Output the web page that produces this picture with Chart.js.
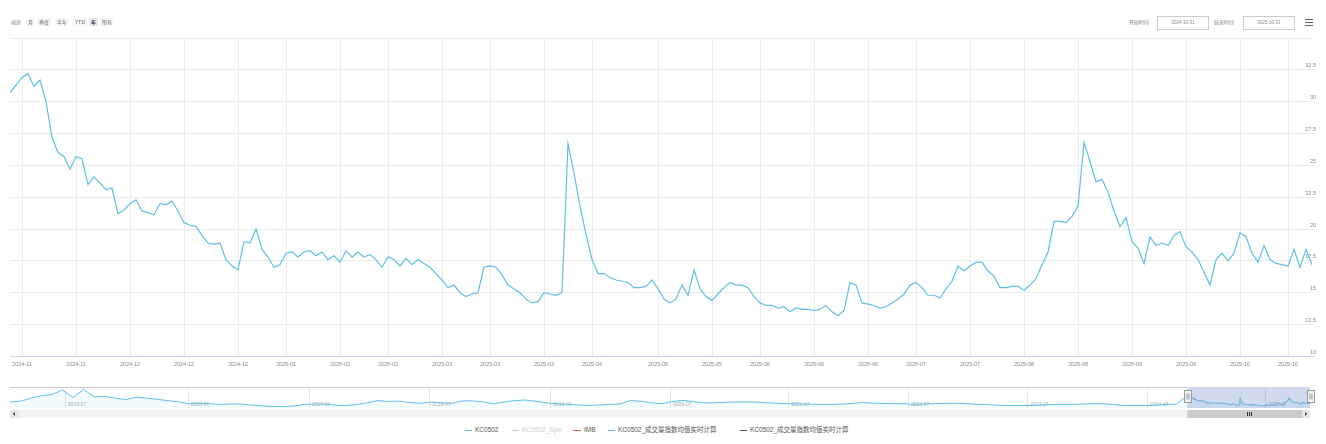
<!DOCTYPE html>
<html>
<head>
<meta charset="utf-8">
<script src="https://cdn.jsdelivr.net/npm/chart.js@4.4.0/dist/chart.umd.min.js"></script>
<style>
body{margin:0;background:#fff;font-family:"Liberation Sans","Noto Sans CJK SC",sans-serif;}
#wrap{position:relative;width:1326px;height:444px;overflow:hidden;}
#mainBox{position:absolute;left:0;top:0;width:1326px;height:380px;}
#navBox{position:absolute;left:0;top:384px;width:1326px;height:36px;}
.t{position:absolute;white-space:nowrap;color:#888;font-size:5px;line-height:8px;}
.btn{position:absolute;top:18px;height:8px;padding:0 2px;background:#f7f7f7;color:#666;font-size:5px;line-height:8px;}
.btn.on{background:#e6ebf5;color:#333;font-weight:bold;}
.inp{position:absolute;top:16px;height:12px;border:1px solid #ccc;color:#888;font-size:4.5px;line-height:12px;text-align:center;}
.menu{position:absolute;left:1305px;width:8px;height:1px;background:#666;}
.lg{position:absolute;top:426px;height:8px;font-size:6.5px;line-height:8px;white-space:nowrap;color:#555;}
.lg i{display:inline-block;width:7px;height:1.5px;vertical-align:middle;margin-right:3px;}
</style>
</head>
<body>
<div id="wrap">
  <div id="mainBox"><canvas id="mainChart"></canvas></div>
  <div id="navBox"><canvas id="navChart"></canvas></div>

  <!-- range selector -->
  <div class="t" style="left:11px;top:18px;">缩放</div>
  <div class="btn" style="left:26px;">月</div>
  <div class="btn" style="left:37px;">季度</div>
  <div class="btn" style="left:55px;">半年</div>
  <div class="btn" style="left:73px;">YTD</div>
  <div class="btn on" style="left:89px;">年</div>
  <div class="btn" style="left:100px;">所有</div>

  <div class="t" style="left:1129px;top:18px;">开始时间</div>
  <div class="inp" style="left:1157px;width:50px;">2024-10-31</div>
  <div class="t" style="left:1214px;top:18px;">结束时间</div>
  <div class="inp" style="left:1243px;width:50px;">2025-10-31</div>
  <div class="menu" style="top:19px;"></div>
  <div class="menu" style="top:22px;"></div>
  <div class="menu" style="top:25px;"></div>

  <!-- legend -->
  <div class="lg" style="left:465px;"><i style="background:#5ec0e6"></i>KC0502</div>
  <div class="lg" style="left:512px;color:#ccc;"><i style="background:#ccc"></i>KC0502_Sym</div>
  <div class="lg" style="left:573px;"><i style="background:#f45b5b;width:8px"></i>IMB</div>
  <div class="lg" style="left:608px;"><i style="background:#5ec0e6"></i>KC0502_成交量指数均值实时计算</div>
  <div class="lg" style="left:740px;"><i style="background:#555"></i>KC0502_成交量指数均值实时计算</div>
</div>

<script>
// daily values shown in the main window (2024-10-31 .. 2025-10-31)
const values = [
  30.7,31.3,31.9,32.2,31.2,31.7,30.0,27.2,26.0,25.7,
  24.7,25.7,25.5,23.5,24.1,23.6,23.1,23.2,21.2,21.5,
  22.0,22.3,21.4,21.3,21.1,22.0,21.9,22.2,21.4,20.5,
  20.3,20.2,19.5,18.9,18.8,18.9,17.6,17.1,16.8,19.0,
  18.9,20.0,18.4,17.8,17.0,17.2,18.1,18.2,17.8,18.2,
  18.3,17.9,18.2,17.6,17.9,17.4,18.3,17.8,18.2,17.8,
  18.0,17.6,17.0,17.8,17.6,17.1,17.7,17.2,17.6,17.3,
  17.0,16.5,16.0,15.4,15.6,15.0,14.7,14.9,15.0,17.0,
  17.1,17.0,16.4,15.6,15.3,15.0,14.5,14.2,14.3,15.0,
  14.9,14.8,15.0,26.7,24.4,21.8,19.6,17.6,16.5,16.5,
  16.2,16.0,15.9,15.8,15.4,15.4,15.5,16.0,15.3,14.5,
  14.2,14.5,15.6,14.8,16.8,15.3,14.7,14.4,14.9,15.4,
  15.8,15.6,15.6,15.4,14.7,14.2,14.0,14.0,13.8,13.9,
  13.5,13.8,13.7,13.7,13.6,13.7,14.0,13.5,13.2,13.6,
  15.8,15.6,14.2,14.1,14.0,13.8,13.9,14.2,14.5,14.9,
  15.6,15.8,15.4,14.8,14.8,14.6,15.3,15.9,17.1,16.7,
  17.1,17.4,17.4,16.7,16.3,15.4,15.4,15.5,15.5,15.2,
  15.6,16.1,17.2,18.2,20.6,20.6,20.5,21.0,21.8,26.8,
  25.3,23.7,23.9,22.9,21.4,20.2,20.9,19.0,18.5,17.3,
  19.4,18.7,18.9,18.7,19.5,19.8,18.6,18.2,17.6,16.6,
  15.6,17.6,18.1,17.5,18.1,19.7,19.4,18.1,17.4,18.7,
  17.6,17.3,17.2,17.1,18.4,17.0,18.4,17.2
];

// x axis ticks (point index -> label)
const xTickIndex = [2,11,20,29,38,46,55,63,72,80,89,97,108,117,125,134,143,151,160,169,178,187,196,205,213];
const xTickText = ["2024-11","2024-11","2024-12","2024-12","2024-12","2025-01","2025-02","2025-02","2025-03","2025-03",
  "2025-03","2025-04","2025-05","2025-05","2025-06","2025-06","2025-06","2025-07","2025-07","2025-08",
  "2025-08","2025-09","2025-09","2025-10","2025-10"];
const yTicks = [10,12.5,15,17.5,20,22.5,25,27.5,30,32.5,35];

// navigator: coarse long history before the main window
const navHistory = [
  20,21,26,30,32,39,27,40,28,29,
  26,23.5,27.5,26,24,22,20,17,17.8,17,
  15.7,16.5,16.5,14.5,13.5,12.4,12.5,13.2,15.7,16.5,
  16.3,14.5,14,15.5,18.5,22,20.5,21.2,19,17.5,
  19.8,18.5,17.5,21.5,21.5,20,17,19.5,22,23,
  21,18.5,16.7,15.8,15,14.2,14.8,15.7,16.5,22,
  21,18.5,17,20.5,22.3,20.5,18.2,18.5,19.2,19.8,
  20,19.5,18.5,17.6,17.1,16.6,16.2,15.9,15.8,16.4,
  17,18.9,18,17.5,17,16.8,16,16.5,17,17.5,
  17.8,17,16,15.4,14.5,14,14,14.2,14.8,15.7,
  15.7,15.7,16.5,17,17,15.5,14,14,14,14.8,
  15.7,16.5
];
const navHistStep = 18.6;   // trading days per history sample
const navTickPos = [97,315,529,742,956,1168,1377,1589,1800,2012,2221];
const navTickText = ["2015-07","2016-07","2017-07","2018-07","2019-07","2020-07","2021-07","2022-07","2023-07","2024-07","2025-07"];

const lineColor = "#5ec0e6";
const fontFam = '"Liberation Sans","Noto Sans CJK SC",sans-serif';

// ---------- main chart ----------
new Chart(document.getElementById("mainChart"), {
  type: "line",
  data: {
    datasets: [{
      label: "KC0502",
      data: values.map((v, i) => ({x: i, y: v})),
      borderColor: lineColor,
      borderWidth: 1.2,
      pointRadius: 0,
      tension: 0
    }]
  },
  options: {
    responsive: true,
    maintainAspectRatio: false,
    animation: false,
    layout: {padding: {top: 38, left: 10, right: 8, bottom: 7}},
    plugins: {legend: {display: false}, tooltip: {enabled: false}},
    scales: {
      x: {
        type: "linear",
        min: 0,
        max: values.length - 1 + 0.33,
        afterBuildTicks: s => { s.ticks = xTickIndex.map(v => ({value: v})); },
        grid: {color: "#ebebeb", drawTicks: false},
        border: {color: "#ccd6eb"},
        ticks: {
          autoSkip: false, maxRotation: 0, padding: 5,
          color: "#888", font: {size: 5.5, family: fontFam},
          callback: (v, i) => xTickText[i]
        }
      },
      y: {
        position: "right",
        min: 10,
        max: 35,
        afterBuildTicks: s => { s.ticks = yTicks.map(v => ({value: v})); },
        grid: {color: "#ebebeb", drawTicks: false},
        border: {display: false},
        ticks: {
          mirror: true, padding: 2, labelOffset: -4,
          color: "#888", font: {size: 5.5, family: fontFam},
          callback: v => v === 35 ? "" : v
        }
      }
    }
  }
});

// ---------- navigator ----------
const mainStart = navHistory.length * navHistStep;
const navPoints = navHistory.map((v, k) => ({x: k * navHistStep, y: v}))
  .concat(values.map((v, i) => ({x: mainStart + i, y: v})));
const mainEnd = mainStart + values.length - 1;

const navDecor = {
  id: "navDecor",
  beforeDatasetsDraw(chart) {
    const {ctx, chartArea: a, scales} = chart;
    ctx.save();
    ctx.strokeStyle = "#e6e6e6";
    ctx.lineWidth = 1;
    navTickPos.forEach(p => {
      const x = Math.round(scales.x.getPixelForValue(p)) + 0.5;
      ctx.beginPath(); ctx.moveTo(x, a.top); ctx.lineTo(x, a.bottom); ctx.stroke();
    });
    ctx.fillStyle = "#aaa";
    ctx.font = "5px " + fontFam;
    ctx.textBaseline = "bottom";
    navTickPos.forEach((p, i) => {
      ctx.fillText(navTickText[i], scales.x.getPixelForValue(p) + 3, a.bottom - 1);
    });
    ctx.restore();
  },
  afterDatasetsDraw(chart) {
    const {ctx, chartArea: a, scales} = chart;
    const x0 = scales.x.getPixelForValue(mainStart);
    const x1 = scales.x.getPixelForValue(mainEnd);
    ctx.save();
    // mask
    ctx.fillStyle = "rgba(102,133,194,0.3)";
    ctx.fillRect(x0, a.top, x1 - x0, a.bottom - a.top);
    // outline
    ctx.strokeStyle = "#cccccc";
    ctx.lineWidth = 1;
    ctx.beginPath();
    ctx.moveTo(a.left, a.top + 0.5); ctx.lineTo(x0, a.top + 0.5);
    ctx.moveTo(x1, a.top + 0.5); ctx.lineTo(a.right, a.top + 0.5);
    ctx.stroke();
    // handles
    [x0, x1].forEach(x => {
      const hx = Math.round(x - 3.5) + 0.5, hy = Math.round(a.top + 3) + 0.5;
      ctx.fillStyle = "#f2f2f2"; ctx.strokeStyle = "#999";
      ctx.fillRect(hx, hy, 7, 12); ctx.strokeRect(hx, hy, 7, 12);
      ctx.beginPath();
      ctx.moveTo(hx + 2.5, hy + 3); ctx.lineTo(hx + 2.5, hy + 9);
      ctx.moveTo(hx + 4.5, hy + 3); ctx.lineTo(hx + 4.5, hy + 9);
      ctx.stroke();
    });
    // scrollbar
    const sy = a.bottom + 2, sh = 8;
    ctx.fillStyle = "#f2f2f2";
    ctx.fillRect(a.left, sy, a.right - a.left, sh);
    ctx.fillStyle = "#cccccc";
    ctx.fillRect(x0, sy, x1 - x0, sh);
    ctx.strokeStyle = "#333";
    const cx = Math.round((x0 + x1) / 2) + 0.5;
    ctx.beginPath();
    [-2, 0, 2].forEach(d => { ctx.moveTo(cx + d, sy + 2); ctx.lineTo(cx + d, sy + 6); });
    ctx.stroke();
    // arrow buttons
    ctx.fillStyle = "#e6e6e6";
    ctx.fillRect(a.left, sy, 8, sh);
    ctx.fillRect(a.right - 8, sy, 8, sh);
    ctx.fillStyle = "#333";
    ctx.beginPath();
    ctx.moveTo(a.left + 5, sy + 2); ctx.lineTo(a.left + 3, sy + 4); ctx.lineTo(a.left + 5, sy + 6);
    ctx.moveTo(a.right - 5, sy + 2); ctx.lineTo(a.right - 3, sy + 4); ctx.lineTo(a.right - 5, sy + 6);
    ctx.fill();
    ctx.restore();
  }
};

new Chart(document.getElementById("navChart"), {
  type: "line",
  data: {
    datasets: [{
      data: navPoints,
      borderColor: lineColor,
      borderWidth: 1,
      backgroundColor: "rgba(94,192,230,0.07)",
      fill: "start",
      pointRadius: 0,
      tension: 0
    }]
  },
  options: {
    responsive: true,
    maintainAspectRatio: false,
    animation: false,
    layout: {padding: {top: 3, left: 10, right: 16, bottom: 12}},
    plugins: {legend: {display: false}, tooltip: {enabled: false}},
    scales: {
      x: {type: "linear", display: false, min: 0, max: mainEnd},
      y: {display: false, min: 10, max: 44}
    }
  },
  plugins: [navDecor]
});
</script>
</body>
</html>
